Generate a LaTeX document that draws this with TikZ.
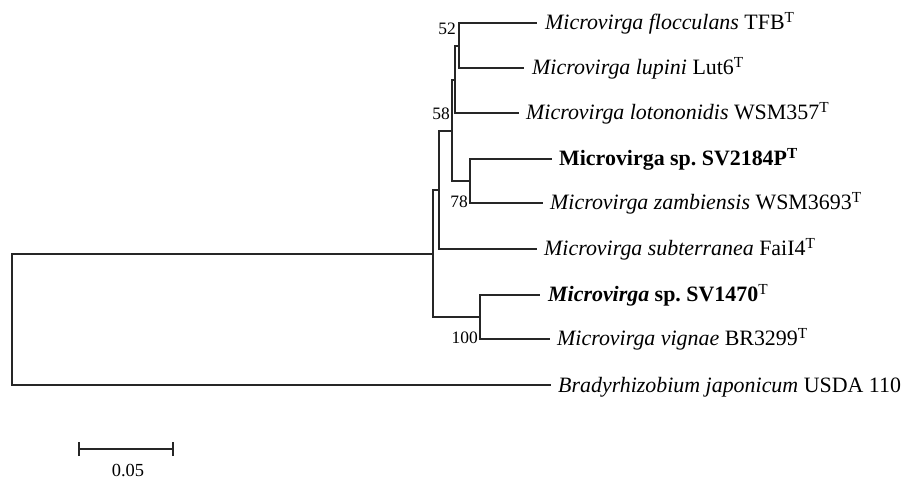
\documentclass[tikz,border=0pt]{standalone}
\usepackage{fontspec}
\setmainfont{Liberation Serif}
\frenchspacing
\begin{document}
\begin{tikzpicture}[x=1bp,y=-1bp,
  br/.style={line width=1.3bp, black!85},
  leaf/.style={anchor=base west, inner sep=0pt, font=\fontsize{22}{26}\selectfont},
  boot/.style={anchor=base east, inner sep=0pt, font=\fontsize{17.5}{20}\selectfont},
  scl/.style={anchor=base, inner sep=0pt, font=\fontsize{18.5}{22}\selectfont}]
\useasboundingbox (0,0) rectangle (905,479);
% internal nodes
\coordinate (R) at (12,319);
\coordinate (M) at (433,254);
\coordinate (D) at (439,190);
\coordinate (C) at (452,131);
\coordinate (B) at (455,80);
\coordinate (A) at (459,46);
\coordinate (E) at (470,181);
\coordinate (F) at (480,317);
% branch ends
\coordinate (flE) at (537,23);
\coordinate (luE) at (524,68);
\coordinate (loE) at (519,113);
\coordinate (s2E) at (552,159);
\coordinate (zaE) at (543,203);
\coordinate (suE) at (537,249);
\coordinate (s1E) at (540,295);
\coordinate (viE) at (550,339);
\coordinate (brE) at (551,385);
% leaves
\node[leaf] (fl) at (545,30) {\textit{Microvirga flocculans} TFB\textsuperscript{T}};
\node[leaf] (lu) at (532,75) {\textit{Microvirga lupini} Lut6\textsuperscript{T}};
\node[leaf] (lo) at (526,120) {\textit{Microvirga lotononidis} WSM357\textsuperscript{T}};
\node[leaf] (s2) at (559,166) {\textbf{Microvirga sp. SV2184P\textsuperscript{T}}};
\node[leaf] (za) at (550,210) {\textit{Microvirga zambiensis} WSM3693\textsuperscript{T}};
\node[leaf] (su) at (544,256) {\textit{Microvirga subterranea} FaiI4\textsuperscript{T}};
\node[leaf] (s1) at (548,302) {\textbf{\textit{Microvirga} sp. SV1470}\textsuperscript{T}};
\node[leaf] (vi) at (557,346) {\textit{Microvirga vignae} BR3299\textsuperscript{T}};
\node[leaf] (bj) at (558,392) {\textit{Bradyrhizobium japonicum} USDA 110};
% branches
\draw[br] (R) |- (M);
\draw[br] (R) |- (brE);
\draw[br] (M) |- (D);
\draw[br] (M) |- (F);
\draw[br] (D) |- (C);
\draw[br] (D) |- (suE);
\draw[br] (C) |- (B);
\draw[br] (C) |- (E);
\draw[br] (B) |- (A);
\draw[br] (B) |- (loE);
\draw[br] (A) |- (flE);
\draw[br] (A) |- (luE);
\draw[br] (E) |- (s2E);
\draw[br] (E) |- (zaE);
\draw[br] (F) |- (s1E);
\draw[br] (F) |- (viE);
% bootstrap values
\node[boot] (b52) at (456,35) {52};
\node[boot] (b58) at (450,120) {58};
\node[boot] (b78) at (468,208) {78};
\node[boot] (b100) at (478,344) {100};
% scale bar
\coordinate (s0) at (79,449);
\coordinate (s1b) at (173,449);
\draw[br] (s0) -- (s1b);
\draw[br] ([yshift=-7bp]s0) -- ([yshift=7bp]s0);
\draw[br] ([yshift=-7bp]s1b) -- ([yshift=7bp]s1b);
\node[scl] (sl) at (128,476) {0.05};
\end{tikzpicture}
\end{document}
